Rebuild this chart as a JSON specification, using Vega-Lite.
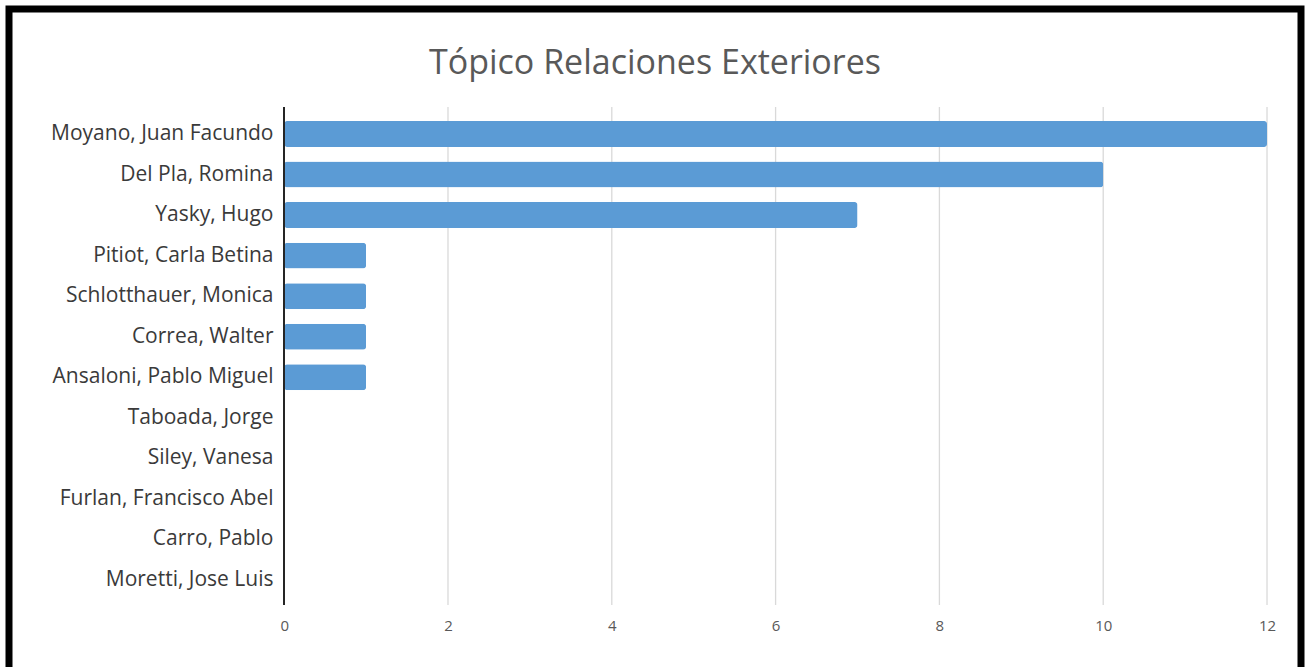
{
  "$schema": "https://vega.github.io/schema/vega-lite/v6.json",
  "autosize": {"type": "none"},
  "padding": {"top": 9, "left": 9, "right": 4, "bottom": -7},
  "width": 1292,
  "height": 665,
  "background": "white",
  "config": {
    "view": {"stroke": "black", "strokeWidth": 7, "fill": "white"},
    "font": "Open Sans"
  },
  "title": {
    "text": "Tópico Relaciones Exteriores",
    "frame": "group",
    "anchor": "middle",
    "baseline": "alphabetic",
    "offset": -99,
    "fontSize": 34,
    "fontWeight": "normal",
    "color": "#595959",
    "font": "Open Sans"
  },
  "data": {
    "values": [
      {"name": "Moyano, Juan Facundo", "count": 12},
      {"name": "Del Pla, Romina", "count": 10},
      {"name": "Yasky, Hugo", "count": 7},
      {"name": "Pitiot, Carla Betina", "count": 1},
      {"name": "Schlotthauer, Monica", "count": 1},
      {"name": "Correa, Walter", "count": 1},
      {"name": "Ansaloni, Pablo Miguel", "count": 1},
      {"name": "Taboada, Jorge", "count": 0},
      {"name": "Siley, Vanesa", "count": 0},
      {"name": "Furlan, Francisco Abel", "count": 0},
      {"name": "Carro, Pablo", "count": 0},
      {"name": "Moretti, Jose Luis", "count": 0}
    ]
  },
  "layer": [
    {
      "data": {"values": [{"g": 2}, {"g": 4}, {"g": 6}, {"g": 8}, {"g": 10}, {"g": 12}]},
      "mark": {"type": "rule", "color": "#D9D9D9", "strokeWidth": 1.3, "yOffset": -27, "y2Offset": 25},
      "encoding": {
        "x": {"field": "g", "type": "quantitative"},
        "y": {"datum": "Moyano, Juan Facundo", "type": "nominal"},
        "y2": {"datum": "Moretti, Jose Luis"}
      }
    },
    {
      "mark": {"type": "bar", "color": "#5B9BD5", "cornerRadius": 3},
      "encoding": {
        "y": {
          "field": "name",
          "type": "nominal",
          "sort": null,
          "scale": {
            "domain": ["Moyano, Juan Facundo", "Del Pla, Romina", "Yasky, Hugo", "Pitiot, Carla Betina", "Schlotthauer, Monica", "Correa, Walter", "Ansaloni, Pablo Miguel", "Taboada, Jorge", "Siley, Vanesa", "Furlan, Francisco Abel", "Carro, Pablo", "Moretti, Jose Luis"],
            "paddingInner": 0.36,
            "paddingOuter": 1,
            "range": [71.45, 624.5]
          },
          "axis": {
            "title": null,
            "orient": "left",
            "offset": -275,
            "domain": false,
            "ticks": false,
            "grid": false,
            "labelPadding": 11,
            "labelFontSize": 21,
            "labelColor": "#3a3a3a",
            "labelLimit": 400,
            "labelFont": "Open Sans"
          }
        },
        "x": {
          "field": "count",
          "type": "quantitative",
          "scale": {"domain": [-3.36, 12.415], "nice": false, "zero": false},
          "axis": {
            "title": null,
            "orient": "bottom",
            "offset": -69,
            "values": [0, 2, 4, 6, 8, 10, 12],
            "format": "d",
            "domain": false,
            "ticks": false,
            "grid": false,
            "labelPadding": 13,
            "labelFontSize": 15,
            "labelColor": "#595959",
            "labelFlush": false,
            "labelFont": "Open Sans"
          }
        }
      }
    },
    {
      "mark": {"type": "rule", "color": "#262626", "strokeWidth": 1.5, "yOffset": -27, "y2Offset": 25},
      "encoding": {
        "x": {"datum": 0, "type": "quantitative"},
        "y": {"datum": "Moyano, Juan Facundo", "type": "nominal"},
        "y2": {"datum": "Moretti, Jose Luis"}
      }
    }
  ]
}
